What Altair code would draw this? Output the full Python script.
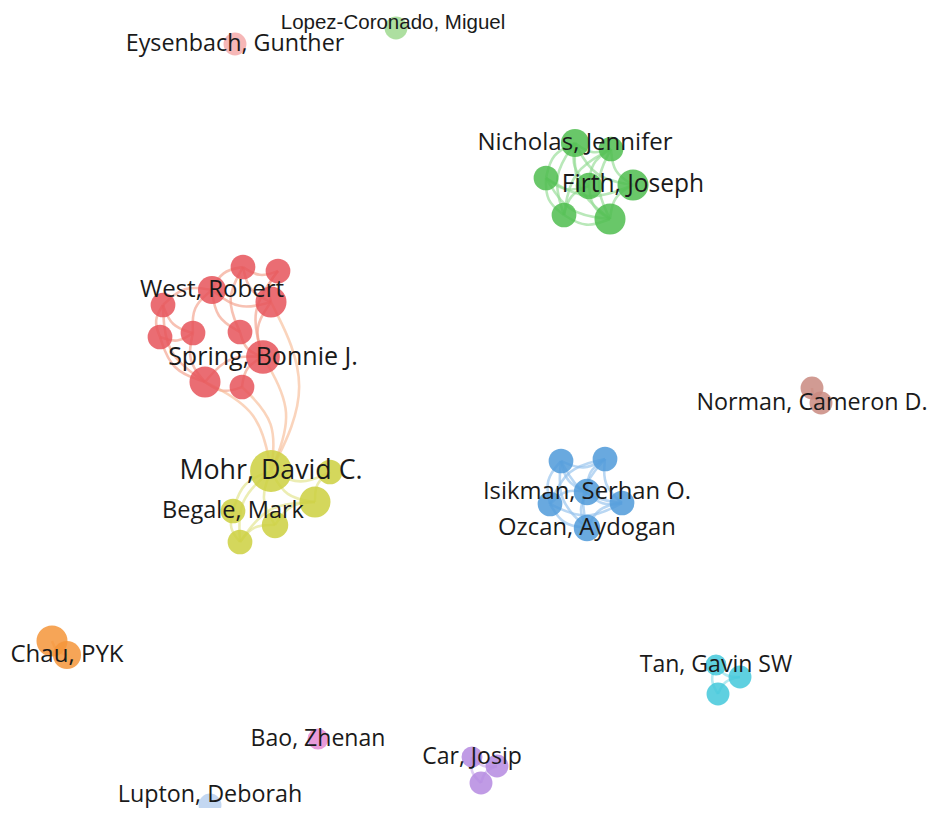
import math
import altair as alt
import pandas as pd

node_id = ["R0", "R1", "R2", "R3", "R4", "R5", "R6", "R7", "R8", "R9", "R10",
           "Y0", "Y1", "Y2", "Y3", "Y4", "Y5",
           "G0", "G1", "G2", "G3", "G4", "G5", "G6",
           "B0", "B1", "B2", "B3", "B4", "B5",
           "N0", "N1", "T0", "T1", "T2", "C0", "C1",
           "P0", "P1", "P2", "Z0", "L0", "E0", "M0"]
node_x = [243, 278, 212, 271, 163, 160, 193, 240, 263, 205, 242,
          271, 330, 315, 233, 275, 240,
          575, 611, 546, 589, 633, 564, 610,
          561, 605, 587, 550, 622, 587,
          812, 821, 716, 740, 718, 52, 67,
          472, 497, 481, 318, 210, 235, 396]
node_y = [267, 271, 290, 302, 305, 337, 333, 332, 357, 382, 387,
          471, 472, 502, 511, 525, 542,
          143, 149, 178, 186, 185, 215, 219,
          461, 459, 492, 504, 503, 528,
          388, 403, 665, 677, 694, 641, 655,
          757, 766, 783, 739, 805, 44, 28]
node_weight = [7, 7, 9, 11, 7, 7, 7, 7, 13, 11, 7,
               20, 7, 11, 7, 8, 7,
               9, 7, 7, 8, 11, 7, 11,
               7, 7, 8, 7, 7, 8,
               6, 6, 5, 6, 6, 11, 9,
               5, 6, 6, 5, 6, 6, 6]
node_cluster = ["red"] * 11 + ["yellow"] * 6 + ["green"] * 7 + ["blue"] * 6 + \
               ["brown"] * 2 + ["cyan"] * 3 + ["orange"] * 2 + ["purple"] * 3 + \
               ["pink", "lightblue", "lightred", "lightgreen"]
node_label = ["", "", "West, Robert", "", "", "", "", "", "Spring, Bonnie J.", "", "",
              "Mohr, David C.", "", "", "Begale, Mark", "", "",
              "Nicholas, Jennifer", "", "", "", "Firth, Joseph", "", "",
              "", "", "Isikman, Serhan O.", "", "", "Ozcan, Aydogan",
              "", "Norman, Cameron D.", "Tan, Gavin SW", "", "", "", "Chau, PYK",
              "Car, Josip", "", "", "Bao, Zhenan", "Lupton, Deborah",
              "Eysenbach, Gunther", "Lopez-Coronado, Miguel"]

# ---- links ----
edge_source = ["R0", "R0", "R0", "R1", "R2", "R2", "R2", "R4", "R4", "R5", "R6", "R7",
               "R8", "R9", "R8", "R3", "R1", "R0", "R2", "R5", "R4",
               "Y0", "Y0", "Y0", "Y0", "Y0", "Y3", "Y4", "Y2", "Y1", "Y2",
               "Y0", "Y0", "Y0", "Y0",
               "G0", "G0", "G0", "G0", "G0", "G0", "G1", "G1", "G1", "G2", "G2", "G2",
               "G3", "G3", "G4", "G5", "G2", "G1",
               "B0", "B0", "B0", "B1", "B1", "B2", "B2", "B2", "B3", "B4", "B0", "B1",
               "B3", "B0", "B1",
               "N0", "T0", "T0", "T1", "C0", "P0", "P0", "P1"]
edge_target = ["R1", "R2", "R3", "R3", "R4", "R7", "R3", "R5", "R6", "R9", "R9", "R8",
               "R10", "R10", "R9", "R8", "R8", "R7", "R6", "R6", "R9",
               "Y1", "Y2", "Y3", "Y4", "Y5", "Y5", "Y5", "Y4", "Y2", "Y5",
               "R9", "R10", "R8", "R3",
               "G1", "G2", "G3", "G4", "G5", "G6", "G3", "G4", "G6", "G3", "G5", "G6",
               "G5", "G6", "G6", "G6", "G4", "G5",
               "B1", "B2", "B3", "B2", "B4", "B3", "B4", "B5", "B5", "B5", "B5", "B5",
               "B4", "B4", "B3",
               "N1", "T1", "T2", "T2", "C1", "P1", "P2", "P2"]

cluster_domain = ["red", "yellow", "green", "blue", "brown", "cyan", "orange",
                  "purple", "pink", "lightblue", "lightred", "lightgreen", "link"]
node_colors = ["#e6545b", "#cdd040", "#4fbd4f", "#4f9ad9", "#c98a80", "#43c8da",
               "#f5953a", "#b58ae0", "#e58ad2", "#b9d0ef", "#f4aaaa", "#9fd98f", "#f3a77c"]
edge_colors = ["#f3a08a", "#e2e48a", "#93dc93", "#93c2ec", "#d8aaa2", "#8adfe9",
               "#f8b77a", "#cdb0ec", "#eeb0e3", "#d4e2f5", "#f7c6c6", "#c2e8b6", "#f7bd98"]

nodes = pd.DataFrame({"id": node_id, "x": node_x, "y": node_y, "weight": node_weight,
                      "cluster": node_cluster, "label": node_label})
pos = {i: (x, y, c) for i, x, y, c in zip(node_id, node_x, node_y, node_cluster)}

rows = []
for k, (s, t) in enumerate(zip(edge_source, edge_target)):
    x1, y1, c1 = pos[s]
    x2, y2, c2 = pos[t]
    cl = c1 if c1 == c2 else "link"
    dx, dy = x2 - x1, y2 - y1
    mx, my = (x1 + x2) / 2 - 0.25 * dy, (y1 + y2) / 2 + 0.25 * dx
    for o, (px, py) in enumerate([(x1, y1), (mx, my), (x2, y2)]):
        rows.append({"edge": k, "order": o, "x": px, "y": py, "cluster": cl})
edges = pd.DataFrame(rows)

xs = alt.Scale(domain=[8, 928], range=[0, 920], nice=False, zero=False)
ys = alt.Scale(domain=[8, 808], range=[0, 800], nice=False, zero=False)
X = alt.X("x:Q", scale=xs, axis=None)
Y = alt.Y("y:Q", scale=ys, axis=None)

edge_layer = alt.Chart(edges).mark_line(
    interpolate="basis", strokeWidth=2.6, opacity=0.65, clip=False
).encode(
    x=X, y=Y,
    detail="edge:N",
    order="order:Q",
    stroke=alt.Stroke("cluster:N", scale=alt.Scale(domain=cluster_domain, range=edge_colors),
                      legend=None),
)

node_layer = alt.Chart(nodes).mark_circle(opacity=0.85, clip=False).encode(
    x=X, y=Y,
    size=alt.Size("weight:Q", scale=alt.Scale(domain=[0, 20], range=[0, 1750], zero=True),
                  legend=None),
    color=alt.Color("cluster:N", scale=alt.Scale(domain=cluster_domain, range=node_colors),
                    legend=None),
)

labels = nodes[nodes["label"] != ""]
edge_labels = ["Lopez-Coronado, Miguel", "Norman, Cameron D.", "Lupton, Deborah"]


def label_layer(filt, font, dx=0, dy=0, fixed=None):
    base = alt.Chart(labels).transform_filter(filt).transform_calculate(
        fsize="21.8 + 0.25 * datum.weight"
    )
    props = dict(font=font, color="#1a1a1a", align="center", baseline="middle",
                 dx=dx, dy=dy, clip=False)
    if fixed is not None:
        return base.mark_text(fontSize=fixed, **props).encode(x=X, y=Y, text="label:N")
    return base.mark_text(**props).encode(
        x=X, y=Y, text="label:N", size=alt.Size("fsize:Q", scale=None, legend=None))


text_main = label_layer(~alt.FieldOneOfPredicate(field="label", oneOf=edge_labels), "Open Sans")
text_norman = label_layer(alt.datum.label == "Norman, Cameron D.", "Open Sans", dx=-9)
text_lupton = label_layer(alt.datum.label == "Lupton, Deborah", "Open Sans", dy=-10)
text_lopez = label_layer(alt.datum.label == "Lopez-Coronado, Miguel", "Liberation Sans",
                         dx=-3, dy=-5, fixed=20.5)

chart = alt.layer(edge_layer, node_layer, text_main, text_norman, text_lupton,
                  text_lopez).resolve_scale(
    size="independent", color="independent"
).properties(
    width=920, height=800, padding=0,
    autosize=alt.AutoSizeParams(type="none"),
    background="white",
).configure_view(stroke=None)

chart.save("out.html", embed_options={"renderer": "svg", "actions": False})
